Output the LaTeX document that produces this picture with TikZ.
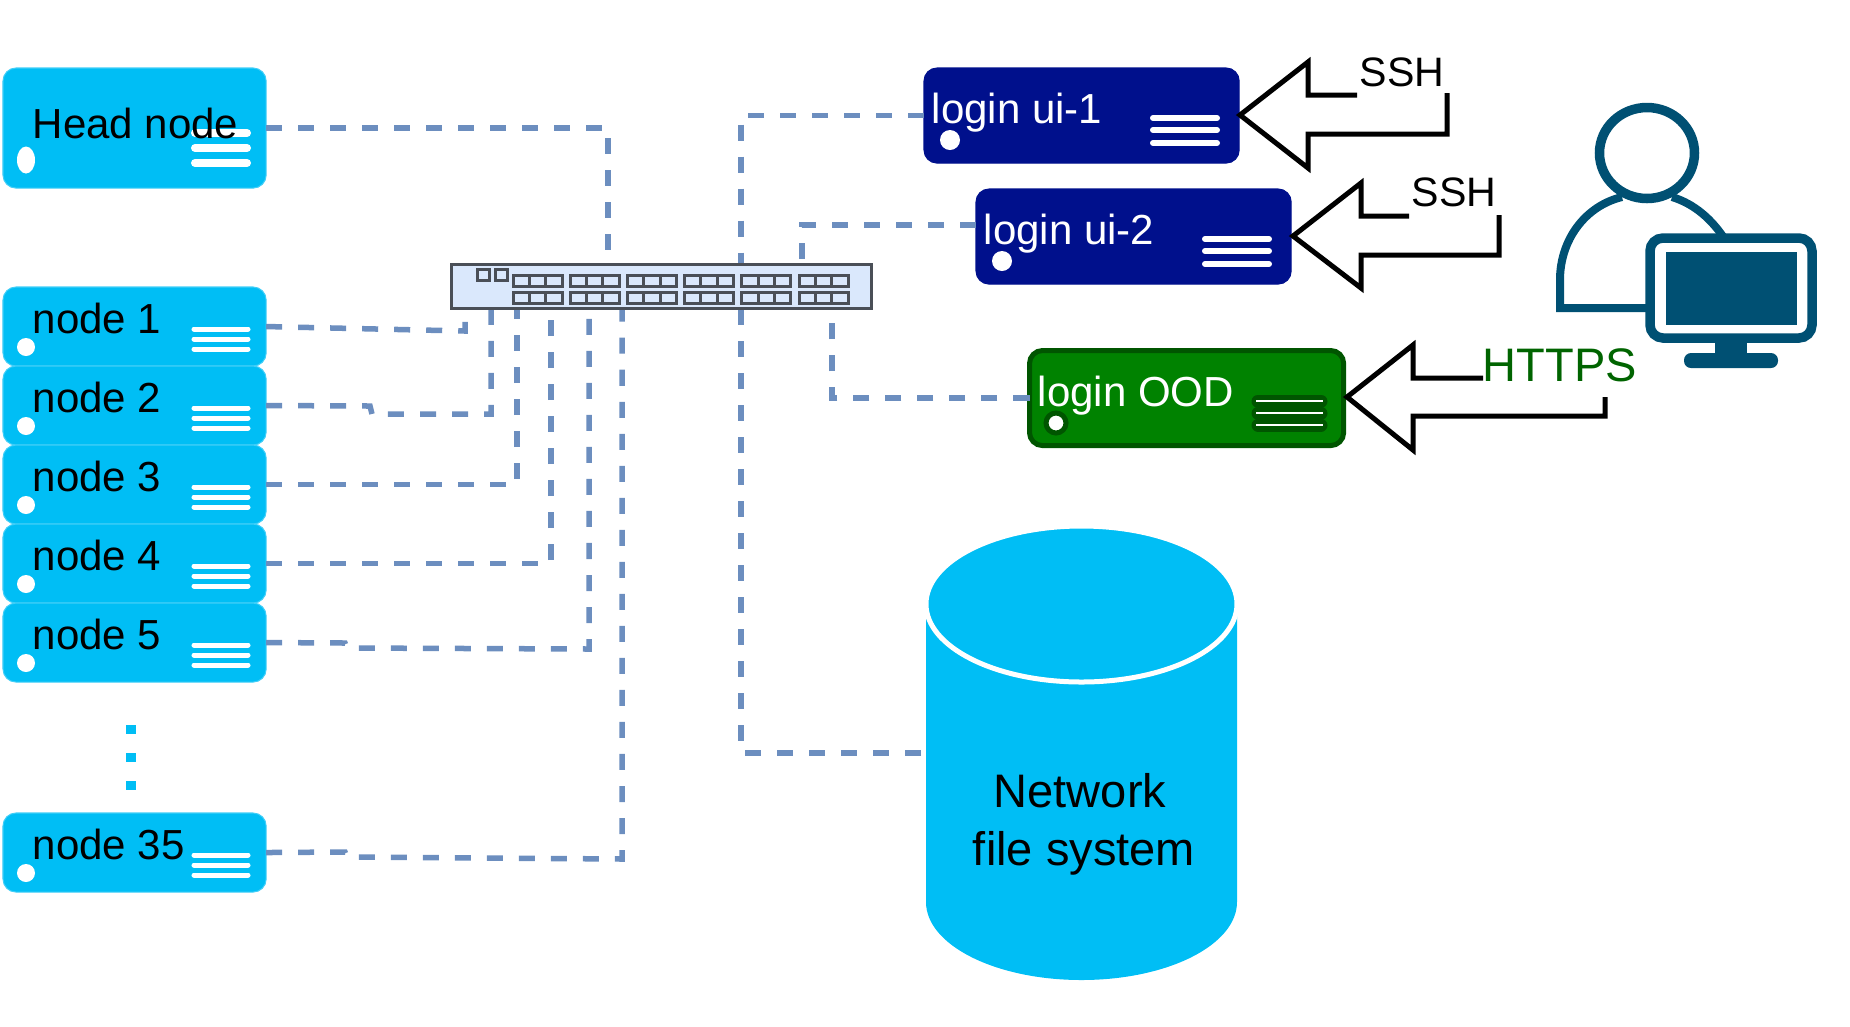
\documentclass[tikz,border=0pt]{standalone}
\usepackage{fontspec}
\setmainfont{Liberation Sans}
\usepackage{xcolor}
\usepackage{tikz}
\usetikzlibrary{positioning}
\definecolor{cServer}{RGB}{0,190,245}
\definecolor{cNavy}{RGB}{0,16,140}
\definecolor{cGreen}{RGB}{0,130,0}
\definecolor{cDkGreen}{RGB}{0,85,0}
\definecolor{cLink}{RGB}{108,142,191}
\definecolor{cSwitch}{RGB}{218,232,252}
\definecolor{cPort}{RGB}{74,79,87}
\definecolor{cUser}{RGB}{0,80,115}
\tikzset{
	srv/.style     ={rectangle, rounded corners=0.13cm, anchor=north west, inner sep=0pt, outer sep=0pt, fill=cServer, draw=cServer!75!white, line width=0.3pt, minimum width=2.63cm, minimum height=0.79cm},
	loginbox/.style={srv, fill=cNavy, draw=cNavy, minimum width=3.15cm, minimum height=0.95cm},
	oodbox/.style  ={srv, fill=cGreen, draw=cDkGreen, line width=0.05cm, minimum width=3.14cm, minimum height=0.95cm},
	srvtxt/.style  ={anchor=base west, inner sep=0pt, font=\fontsize{11.95}{14}\selectfont},
	link/.style    ={cLink, line width=0.055cm, dash pattern=on 0.16cm off 0.16cm},
	bar/.style     ={white, line width=0.06cm, line cap=round},
	bigarrow/.style={black, line width=0.05cm, miter limit=10},
	portline/.style={cPort, line width=0.03cm},
	usr/.style     ={cUser, line width=0.08cm},
}
\begin{document}
\begin{tikzpicture}[x=0.01cm, y=-0.01cm]
	\useasboundingbox (0,0) rectangle (1850,1026);
	% switch ports where the links land
	\coordinate (p0) at (608,264);
	\coordinate (p1) at (465,308);
	\coordinate (p2) at (491,308);
	\coordinate (p3) at (517,308);
	\coordinate (p4) at (551,308);
	\coordinate (p5) at (589,308);
	\coordinate (p35) at (622,308);
	\coordinate (pui1) at (741,264);
	\coordinate (pui2) at (802,264);
	\coordinate (pnfs) at (741,308);
	\coordinate (pood) at (832,308);
	\coordinate (ui2in) at (976,225);
	\coordinate (nfsin) at (921,753);

	% compute nodes
	\node[srv, minimum height=1.2cm] (head) at (3,68) {};
	\fill[white] (26,160) ellipse [x radius=9, y radius=13.5];
	\foreach \yy in {133,148,163} \draw[bar, line width=0.08cm] (195,\yy) -- (247,\yy);
	\node[srvtxt] (headtxt) at (32,138) {Head node};
	\foreach \nm/\lbl/\ty in {n1/node 1/287, n2/node 2/366, n3/node 3/445, n4/node 4/524, n5/node 5/603, n35/node 35/813} {
		\node[srv] (\nm) at (3,\ty) {};
		\fill[white] (26,\ty+60) circle [radius=9];
		\foreach \yy in {42,52,62} \draw[bar, line width=0.05cm] (194,\ty+\yy) -- (248,\ty+\yy);
		\node[srvtxt] (\nm txt) at (32,\ty+46) {\lbl};
	}
	\draw[cServer, line width=0.09cm, dash pattern=on 0.09cm off 0.19cm] (131,725) -- (131,795);

	% login nodes
	\foreach \nm/\lbl/\lx/\ty in {ui1/login ui-1/924/68, ui2/login ui-2/976/189} {
		\node[loginbox] (\nm) at (\lx,\ty) {};
		\node[srvtxt, text=white] (\nm txt) at (\lx+7,\ty+55) {\lbl};
		\fill[white] (\lx+26,\ty+72) circle [radius=10];
		\foreach \yy in {50,62,75} \draw[bar] (\lx+229,\ty+\yy) -- (\lx+293,\ty+\yy);
	}
	\node[oodbox] (ood) at (1029.5,350.5) {};
	\node[srvtxt, text=white] (oodtxt) at (1037,406) {login OOD};
	\filldraw[fill=white, draw=cDkGreen, line width=0.05cm] (1056,423) circle [radius=10];
	\foreach \yy in {401,413,425} {
		\draw[cDkGreen, line width=0.13cm, line cap=round] (1258,\yy) -- (1321,\yy);
		\draw[white, line width=0.012cm] (1256,\yy) -- (1323,\yy);
	}

	% storage
	\fill[cServer] (926,605) -- (926,902) arc [start angle=180, end angle=0, x radius=155.5, y radius=78] -- (1237,605) -- cycle;
	\filldraw[fill=cServer, draw=white, line width=0.05cm] (1081.5,604) ellipse [x radius=155.5, y radius=78];
	\node[align=center, font=\fontsize{13.37}{16.5}\selectfont] (nfs) at (1080,824) {Network\\ \hspace*{0.08cm}file system};

	% links
	\draw[link] (head.east) -| (p0);
	\draw[link] (n1.east) -- (465,331) -- (p1);
	\draw[link] (n2.east) -- (370,406) -- (372,414) -- (491,414) -- (p2);
	\draw[link] (n3.east) -| (p3);
	\draw[link] (n4.east) -| (p4);
	\draw[link] (n5.east) -- (345,643) -- (347,648) -- (589,649) -- (p5);
	\draw[link] (n35.east) -- (345,852) -- (347,857) -- (622,859) -- (p35);
	\draw[link] (ui1.west) -| (pui1);
	\draw[link] (ui2in) -| (pui2);
	\draw[link] (ood.west) -| (pood);
	\draw[link] (nfsin) -| (pnfs);

	% switch
	\node[rectangle, anchor=north west, fill=cSwitch, draw=cPort, line width=0.03cm, minimum width=4.2cm, minimum height=0.44cm, inner sep=0pt, outer sep=0pt] (sw) at (451,264) {};
	\foreach \sq in {477,495} \draw[portline] (\sq,269) rectangle +(12,11);
	\foreach \px in {513,570,627.4,684.6,741.8,799} \foreach \ry in {275,292} {
		\draw[portline] (\px,\ry) rectangle +(49,11);
		\draw[portline] (\px+16.3,\ry) -- +(0,11) (\px+32.6,\ry) -- +(0,11);
	}

	% access arrows
	\draw[bigarrow] (1357,95) -- (1308,95) -- (1308,62) -- (1240,115) -- (1308,168) -- (1308,134) -- (1447,134) -- (1447,93);
	\draw[bigarrow] (1409,216) -- (1361,216) -- (1361,183) -- (1293,236) -- (1361,288) -- (1361,255) -- (1499,255) -- (1499,215);
	\draw[bigarrow] (1483,378) -- (1413,378) -- (1413,345) -- (1347,397) -- (1413,450) -- (1413,416) -- (1605,416) -- (1605,397);
	\node[font=\fontsize{11.7}{14}\selectfont] (ssh1) at (1402,72) {SSH};
	\node[font=\fontsize{11.7}{14}\selectfont] (ssh2) at (1454,192) {SSH};
	\node[font=\fontsize{13.37}{16}\selectfont, text={rgb,255:red,0;green,100;blue,0}] (https) at (1560,365) {HTTPS};

	% user at the screen
	\draw[usr, line width=0.095cm] (1647,153) ellipse [x radius=47.5, y radius=45.5];
	\draw[usr, miter limit=10] (1650,308) -- (1560,308) -- (1560,280) .. controls (1560,240) and (1585,206) .. (1622,197);
	\draw[usr] (1672,197) .. controls (1695,204) and (1712,220) .. (1724,238);
	\filldraw[fill=white, draw=cUser, line width=0.095cm, rounded corners=0.13cm] (1650,238) rectangle (1812,338);
	\fill[cUser] (1666,252) rectangle (1797,325);
	\fill[cUser] (1715,340) rectangle (1747,356);
	\fill[cUser, rounded corners=0.07cm] (1684,353) rectangle (1778,368);
\end{tikzpicture}
\end{document}
